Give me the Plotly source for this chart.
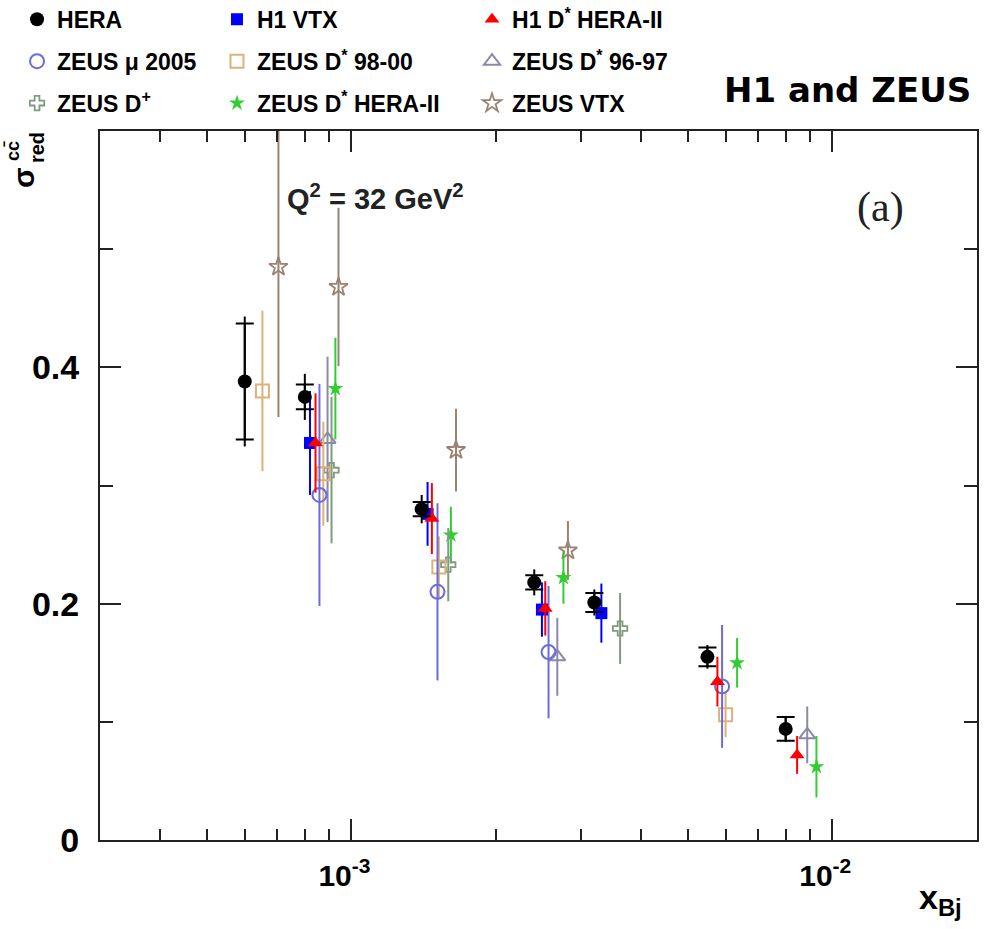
import plotly.graph_objects as go

# ---------------- data ----------------
hera_x = [6.0e-4, 8.0e-4, 1.4e-3, 2.4e-3, 3.2e-3, 5.5e-3, 8.0e-3]
hera_y = [0.388, 0.375, 0.280, 0.218, 0.201, 0.155, 0.094]
hera_tot = [0.055, 0.0195, 0.012, 0.011, 0.011, 0.010, 0.011]
hera_inner = [0.049, 0.0105, 0.006, 0.006, 0.008, 0.008, 0.010]

h1vtx_x = [8.2e-4, 1.44e-3, 2.49e-3, 3.31e-3]
h1vtx_y = [0.336, 0.276, 0.195, 0.192]
h1vtx_e = [0.044, 0.027, 0.023, 0.025]

h1ds_x = [8.42e-4, 1.47e-3, 2.53e-3, 5.77e-3, 8.45e-3]
h1ds_y = [0.336, 0.272, 0.196, 0.134, 0.072]
h1ds_e = [0.042, 0.030, 0.023, 0.021, 0.016]

zmu_x = [8.58e-4, 1.51e-3, 2.57e-3, 5.9e-3]
zmu_y = [0.292, 0.210, 0.159, 0.130]
zmu_e = [0.094, 0.075, 0.056, 0.052]

zds98_x = [6.53e-4, 8.74e-4, 1.52e-3, 6.0e-3]
zds98_y = [0.380, 0.310, 0.231, 0.106]
zds98_e = [0.068, 0.044, 0.026, 0.019]

zds96_x = [8.92e-4, 2.68e-3, 8.87e-3]
zds96_y = [0.339, 0.155, 0.089]
zds96_e = [0.070, 0.033, 0.024]

zdp_x = [9.09e-4, 1.59e-3, 3.62e-3]
zdp_y = [0.313, 0.233, 0.179]
zdp_e = [0.062, 0.031, 0.030]

zdsh2_x = [9.26e-4, 1.61e-3, 2.76e-3, 6.34e-3, 9.27e-3]
zdsh2_y = [0.382, 0.258, 0.222, 0.150, 0.062]
zdsh2_e = [0.043, 0.024, 0.022, 0.021, 0.026]

zvtx_x = [7.05e-4, 9.4e-4, 1.65e-3, 2.82e-3]
zvtx_y = [0.485, 0.468, 0.330, 0.245]
zvtx_e = [0.127, 0.067, 0.035, 0.025]

x_tickvals = [1e-3, 1e-2]
x_ticktext = ["10<sup>-3</sup>", "10<sup>-2</sup>"]
x_minor = [4e-4, 5e-4, 6e-4, 7e-4, 8e-4, 9e-4, 2e-3, 3e-3, 4e-3, 5e-3, 6e-3, 7e-3, 8e-3, 9e-3]
y_tickvals = [0, 0.2, 0.4]
y_ticktext = ["0", "0.2", "0.4"]
y_minor = [0.1, 0.3, 0.5]

FONT = "Liberation Sans"
fig = go.Figure()


def add(name, x, y, e, symbol, color, size, legend, rank, lw=2):
    fig.add_trace(go.Scatter(
        x=x, y=y, mode="markers", name=name,
        marker=dict(symbol=symbol, color=color, size=size,
                    line=dict(color=color, width=lw)),
        error_y=dict(type="data", array=e, color=color, thickness=2, width=0),
        legend=legend, legendrank=rank, legendgroup=name,
    ))


add("ZEUS VTX", zvtx_x, zvtx_y, zvtx_e, "star-open", "#9c8272", 14, "legend3", 3, lw=1.8)
add("ZEUS D<sup>*</sup> HERA-II", zdsh2_x, zdsh2_y, zdsh2_e, "star", "#33cc33", 12, "legend2", 3, lw=0)
add("ZEUS D<sup>+</sup>", zdp_x, zdp_y, zdp_e, "cross-open", "#7f9c80", 12, "legend", 3, lw=1.8)
add("ZEUS D<sup>*</sup> 96-97", zds96_x, zds96_y, zds96_e, "triangle-up-open", "#8a8aa6", 14, "legend3", 2)
add("ZEUS D<sup>*</sup> 98-00", zds98_x, zds98_y, zds98_e, "square-open", "#dcb27c", 13, "legend2", 2)
add("ZEUS \u03bc 2005", zmu_x, zmu_y, zmu_e, "circle-open", "#6b6bdc", 14, "legend", 2)
add("H1 VTX", h1vtx_x, h1vtx_y, h1vtx_e, "square", "#0000ff", 12, "legend2", 1, lw=0)
add("H1 D<sup>*</sup> HERA-II", h1ds_x, h1ds_y, h1ds_e, "triangle-up", "#ff0000", 13, "legend3", 1, lw=0)

# HERA: inner caps
fig.add_trace(go.Scatter(
    x=hera_x, y=hera_y, mode="markers", showlegend=False, hoverinfo="skip",
    marker=dict(size=1, color="rgba(0,0,0,0)"),
    error_y=dict(type="data", array=hera_inner, color="black", thickness=2, width=9),
))
add("HERA", hera_x, hera_y, hera_tot, "circle", "black", 14, "legend", 1, lw=0)

axis_common = dict(showline=True, linecolor="#222", linewidth=2, mirror="ticks",
                   ticks="inside", ticklen=21, tickwidth=1.5, tickcolor="#222",
                   showgrid=False, zeroline=False)

fig.update_xaxes(type="log", range=[-3.5229, -1.699], tickmode="array",
                 tickvals=x_tickvals, ticktext=x_ticktext,
                 tickfont=dict(family=FONT, size=30, color="black", weight="bold"),
                 minor=dict(tickmode="array", tickvals=x_minor, ticks="inside", ticklen=11,
                            tickwidth=1.5, tickcolor="#222", showgrid=False),
                 ticklabelstandoff=8, ticklabelshift=-7,
                 **axis_common)
fig.update_yaxes(range=[0, 0.6], tickmode="array", tickvals=y_tickvals, ticktext=y_ticktext,
                 tickfont=dict(family=FONT, size=34, color="black", weight="bold"),
                 minor=dict(tickmode="array", tickvals=y_minor, ticks="inside", ticklen=13,
                            tickwidth=1.5, tickcolor="#222", showgrid=False),
                 ticklabelstandoff=12,
                 **axis_common)

leg_font = dict(family=FONT, size=23, color="black", weight="bold")
leg_common = dict(font=leg_font, orientation="v", xanchor="left", yanchor="top",
                  traceorder="grouped", tracegroupgap=9, bgcolor="rgba(0,0,0,0)",
                  itemwidth=30)
LY = 1.1878
fig.update_layout(
    width=986, height=929,
    margin=dict(l=100, r=9, t=131, b=89, autoexpand=False),
    paper_bgcolor="white", plot_bgcolor="white",
    legend=dict(x=-0.0946, y=LY, **leg_common),
    legend2=dict(x=0.1334, y=LY, **leg_common),
    legend3=dict(x=0.4242, y=LY, **leg_common),
)

ann = [
    dict(text="<b>H1 and ZEUS</b>", x=0.9954, y=1.0578, xanchor="right", yanchor="middle",
         font=dict(family="DejaVu Sans", size=34, color="black")),
    dict(text="(a)", x=0.8894, y=0.8914, xanchor="center", yanchor="middle",
         font=dict(family="Liberation Serif", size=42, color="#222")),
    dict(text="<b>Q<sup>2</sup> = 32 GeV<sup>2</sup></b>", x=0.3147, y=0.9069,
         xanchor="center", yanchor="middle", font=dict(family=FONT, size=29, color="#222")),
    dict(text="<b>x<sub>Bj</sub></b>", x=0.958, y=-0.0846, xanchor="center", yanchor="middle",
         font=dict(family=FONT, size=34, color="black")),
    dict(text="<b>\u03c3</b>", x=-0.0878, y=0.935, xanchor="center", yanchor="middle",
         textangle=-90, font=dict(family=FONT, size=30, color="black")),
    dict(text="<b>cc\u0304</b>", x=-0.0992, y=0.9718, xanchor="center", yanchor="middle",
         textangle=-90, font=dict(family=FONT, size=18, color="black")),
    dict(text="<b>red</b>", x=-0.0718, y=0.976, xanchor="center", yanchor="middle",
         textangle=-90, font=dict(family=FONT, size=20, color="black")),
]
for a in ann:
    fig.add_annotation(xref="paper", yref="paper", showarrow=False, **a)

fig.write_html("out.html")
